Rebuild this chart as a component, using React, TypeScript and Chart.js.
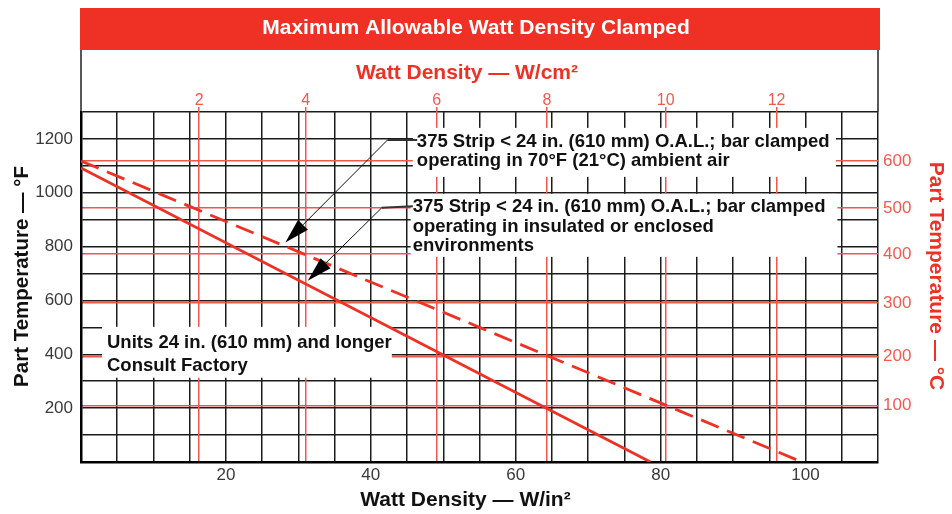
import React, { useEffect, useRef } from 'react';
import { Chart, registerables } from 'chart.js';

Chart.register(...registerables);

// ---------- data ----------
const wattInLabeledTicks = [20, 40, 60, 80, 100];
const tempFLabeledTicks = [200, 400, 600, 800, 1000, 1200];
const wattCmTickLabels = ['2', '4', '6', '8', '10', '12'];
const wattCmTickPositionsIn = [16.3, 31.0, 49.1, 64.3, 80.7, 96.0];
const tempCTickLabels = ['100', '200', '300', '400', '500', '600'];
const tempCTickPositionsF = [209, 392, 590, 772, 943, 1118];

const ambientWattIn = [0, 99.5];
const ambientTempF = [1118, 0];
const enclosedWattIn = [0, 78.6];
const enclosedTempF = [1092, 0];

const ambientNote = ['375 Strip < 24 in. (610 mm) O.A.L.; bar clamped', 'operating in 70°F (21°C) ambient air'];
const enclosedNote = ['375 Strip < 24 in. (610 mm) O.A.L.; bar clamped', 'operating in insulated or enclosed', 'environments'];
const longNote = ['Units 24 in. (610 mm) and longer', 'Consult Factory'];

const FONT = '"Liberation Sans", Arial, Helvetica, sans-serif';
const RED = '#EE3124';
const RED_GRID = '#F0574D';
const RED_TICK = '#F25A50';
const BLACK_GRID = '#1c1c1c';

// annotation boxes (data units)
const boxes = [
  { x0: 45.8, x1: 104.2, y0: 1059, y1: 1241, lines: ambientNote, dx: 4, dy: 19, gap: 19.5 },
  { x0: 45.5, x1: 104.4, y0: 762, y1: 996, lines: enclosedNote, dx: 2, dy: 18.5, gap: 19.5 },
  { x0: 2.9, x1: 42.9, y0: 313, y1: 502, lines: longNote, dx: 5, dy: 21, gap: 23 },
];
const arrows = [
  { leader: [[46.4, 1196], [42.3, 1196]], tip: [28.2, 815] },
  { leader: [[45.8, 950], [41.5, 944]], tip: [31.3, 673] },
];

const decorPlugin = {
  id: 'decor',
  beforeDraw(chart: any) {
    const { ctx, chartArea } = chart;
    const tb = chart.titleBlock;
    ctx.save();
    ctx.fillStyle = RED;
    const top = 8;
    ctx.fillRect(chartArea.left - 1, top, chartArea.right - chartArea.left + 3, tb.bottom - top);
    ctx.strokeStyle = '#222';
    ctx.lineWidth = 1.5;
    ctx.beginPath();
    ctx.moveTo(chartArea.left, tb.bottom);
    ctx.lineTo(chartArea.left, chartArea.top);
    ctx.moveTo(chartArea.right, tb.bottom);
    ctx.lineTo(chartArea.right, chartArea.top);
    ctx.stroke();
    ctx.restore();
  },
  beforeDatasetsDraw(chart: any) {
    const { ctx } = chart;
    const xs = chart.scales.x;
    const ys = chart.scales.y;
    ctx.save();
    ctx.fillStyle = '#ffffff';
    boxes.forEach((b) => {
      const l = xs.getPixelForValue(b.x0);
      const r = xs.getPixelForValue(b.x1);
      const t = ys.getPixelForValue(b.y1);
      const btm = ys.getPixelForValue(b.y0);
      ctx.fillRect(l, t, r - l, btm - t);
    });
    ctx.restore();
  },
  afterDraw(chart: any) {
    const { ctx, chartArea } = chart;
    const xs = chart.scales.x;
    const ys = chart.scales.y;
    const px = (p: number[]) => [xs.getPixelForValue(p[0]), ys.getPixelForValue(p[1])];
    ctx.save();
    ctx.fillStyle = '#111';
    ctx.font = `bold 18.5px ${FONT}`;
    ctx.textAlign = 'left';
    ctx.textBaseline = 'alphabetic';
    boxes.forEach((b) => {
      const l = xs.getPixelForValue(b.x0);
      const t = ys.getPixelForValue(b.y1);
      b.lines.forEach((s, i) => ctx.fillText(s, l + b.dx, t + b.dy + i * b.gap));
    });
    arrows.forEach((a) => {
      const p0 = px(a.leader[0]);
      const p1 = px(a.leader[1]);
      const tip = px(a.tip);
      ctx.strokeStyle = '#333';
      ctx.lineWidth = 2;
      ctx.beginPath();
      ctx.moveTo(p0[0], p0[1]);
      ctx.lineTo(p1[0], p1[1]);
      ctx.stroke();
      ctx.strokeStyle = '#111';
      ctx.lineWidth = 1;
      const ang = Math.atan2(tip[1] - p1[1], tip[0] - p1[0]);
      const hl = 25;
      const hw = 7;
      const bx = tip[0] - hl * Math.cos(ang);
      const by = tip[1] - hl * Math.sin(ang);
      ctx.beginPath();
      ctx.moveTo(p1[0], p1[1]);
      ctx.lineTo(bx, by);
      ctx.stroke();
      ctx.fillStyle = '#000';
      ctx.beginPath();
      ctx.moveTo(tip[0], tip[1]);
      ctx.lineTo(bx + hw * Math.sin(ang), by - hw * Math.cos(ang));
      ctx.lineTo(bx - hw * Math.sin(ang), by + hw * Math.cos(ang));
      ctx.closePath();
      ctx.fill();
    });
    const cx = (chartArea.left + chartArea.right) / 2;
    const cy = (chartArea.top + chartArea.bottom) / 2;
    ctx.textAlign = 'center';
    ctx.textBaseline = 'middle';
    ctx.font = `bold 21px ${FONT}`;
    ctx.fillStyle = RED;
    ctx.fillText('Watt Density — W/cm²', cx - 12.5, chartArea.top - 39);
    ctx.fillStyle = '#111';
    ctx.fillText('Watt Density — W/in²', cx - 14, chartArea.bottom + 38);
    ctx.save();
    ctx.translate(chartArea.left - 59, cy - 10.5);
    ctx.rotate(-Math.PI / 2);
    ctx.font = `bold 20.5px ${FONT}`;
    ctx.fillText('Part Temperature — °F', 0, 0);
    ctx.restore();
    ctx.save();
    ctx.translate(chartArea.right + 57.5, cy - 11);
    ctx.rotate(Math.PI / 2);
    ctx.fillStyle = RED;
    ctx.fillText('Part Temperature — °C', 0, 0);
    ctx.restore();
    ctx.restore();
  },
};

export default function App() {
  const ref = useRef<HTMLCanvasElement>(null);
  useEffect(() => {
    if (!ref.current) return;
    Chart.defaults.font.family = FONT;
    const chart = new Chart(ref.current, {
      type: 'scatter',
      data: {
        datasets: [
          {
            label: 'Ambient air',
            data: ambientWattIn.map((x, i) => ({ x, y: ambientTempF[i] })),
            showLine: true,
            borderColor: RED,
            borderWidth: 2.8,
            borderDash: [19, 9],
            pointRadius: 0,
            xAxisID: 'x',
            yAxisID: 'y',
          },
          {
            label: 'Insulated or enclosed',
            data: enclosedWattIn.map((x, i) => ({ x, y: enclosedTempF[i] })),
            showLine: true,
            borderColor: RED,
            borderWidth: 2.8,
            pointRadius: 0,
            xAxisID: 'x',
            yAxisID: 'y',
          },
        ],
      },
      options: {
        animation: false,
        responsive: false,
        layout: { padding: 0 },
        plugins: {
          legend: { display: false },
          tooltip: { enabled: false },
          title: {
            display: true,
            text: 'Maximum Allowable Watt Density Clamped',
            color: '#ffffff',
            font: { size: 21, weight: 'bold', family: FONT, lineHeight: 1.2 },
            padding: { top: 15.4, bottom: 9.4 },
          },
        },
        scales: {
          x: {
            type: 'linear',
            position: 'bottom',
            min: 0,
            max: 110,
            afterFit: (s: any) => { s.height = 52; },
            ticks: {
              stepSize: 5,
              autoSkip: false,
              maxRotation: 0,
              padding: 4.5,
              color: '#3a3a3a',
              font: { size: 17, lineHeight: 1 },
              callback: (v: any) => (wattInLabeledTicks.includes(v) ? String(v) : ''),
            },
            grid: { color: BLACK_GRID, lineWidth: 1.5, drawTicks: false },
            border: { display: true, color: '#000', width: 2.5 },
          },
          y: {
            type: 'linear',
            position: 'left',
            min: 0,
            max: 1300,
            afterFit: (s: any) => { s.width = 81; },
            ticks: {
              stepSize: 100,
              autoSkip: false,
              padding: 8,
              color: '#3a3a3a',
              font: { size: 17, lineHeight: 1 },
              callback: (v: any) => (tempFLabeledTicks.includes(v) ? String(v) : ''),
            },
            grid: { color: BLACK_GRID, lineWidth: 1.5, drawTicks: false },
            border: { display: true, color: '#000', width: 2.5 },
          },
          x2: {
            type: 'linear',
            position: 'top',
            min: 0,
            max: 110,
            afterFit: (s: any) => { s.height = 62; },
            afterBuildTicks: (s: any) => { s.ticks = wattCmTickPositionsIn.map((v) => ({ value: v })); },
            ticks: {
              autoSkip: false,
              maxRotation: 0,
              padding: -2,
              color: RED_TICK,
              font: { size: 16, lineHeight: 1 },
              callback: (_v: any, i: number) => wattCmTickLabels[i],
            },
            grid: { color: RED_GRID, lineWidth: 1.5, drawTicks: true, tickLength: 5 },
            border: { display: false },
          },
          y2: {
            type: 'linear',
            position: 'right',
            min: 0,
            max: 1300,
            afterFit: (s: any) => { s.width = 74; },
            afterBuildTicks: (s: any) => { s.ticks = tempCTickPositionsF.map((v) => ({ value: v })); },
            ticks: {
              autoSkip: false,
              padding: 5,
              color: RED_TICK,
              font: { size: 17, lineHeight: 1 },
              callback: (_v: any, i: number) => tempCTickLabels[i],
            },
            grid: { color: RED_GRID, lineWidth: 1.5, drawTicks: false },
            border: { display: false },
          },
        },
      } as any,
      plugins: [decorPlugin],
    });
    return () => chart.destroy();
  }, []);
  return (
    <div style={{ position: 'absolute', left: 0, top: 0, width: 952, height: 514, background: '#fff' }}>
      <canvas ref={ref} width={952} height={514} />
    </div>
  );
}
